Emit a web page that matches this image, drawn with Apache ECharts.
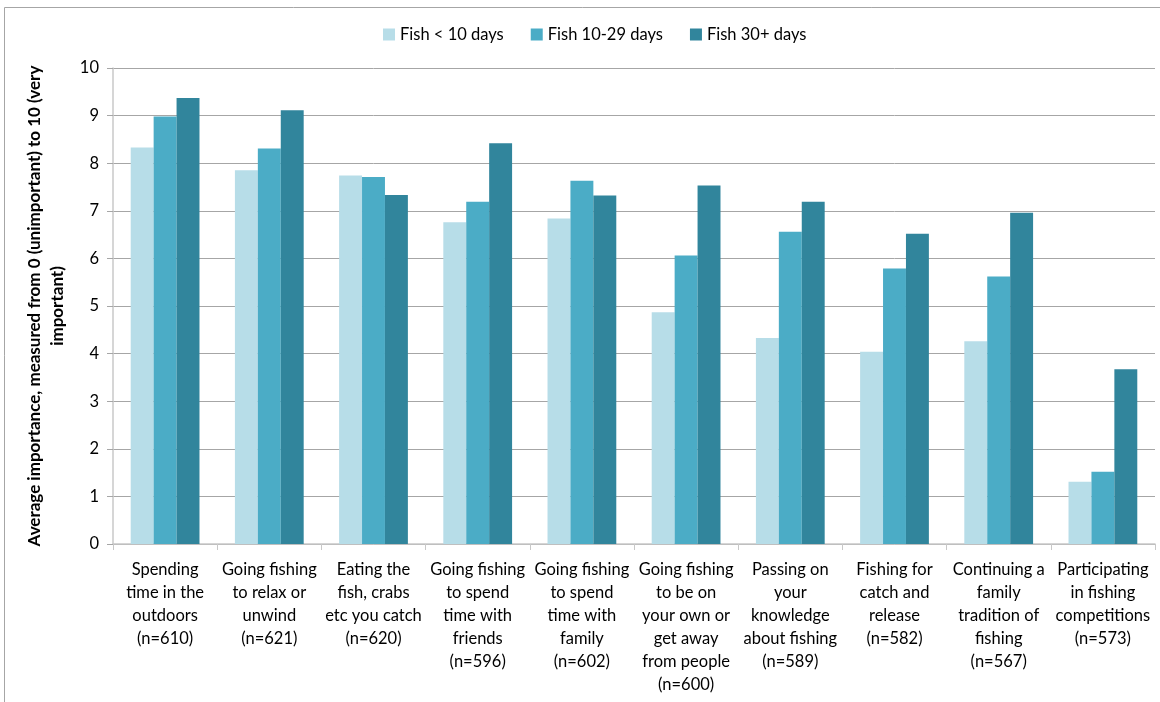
<!DOCTYPE html>
<html>
<head>
<meta charset="utf-8">
<script src="https://cdn.jsdelivr.net/npm/echarts@6/dist/echarts.min.js"></script>
<style>html,body{margin:0;padding:0;background:#fff;}#c{width:1160px;height:702px;}</style>
</head>
<body>
<div id="c"></div>
<script>
const categories = [
  "Spending\ntime in the\noutdoors\n(n=610)",
  "Going fishing\nto relax or\nunwind\n(n=621)",
  "Eating the\nfish, crabs\netc you catch\n(n=620)",
  "Going fishing\nto spend\ntime with\nfriends\n(n=596)",
  "Going fishing\nto spend\ntime with\nfamily\n(n=602)",
  "Going fishing\nto be on\nyour own or\nget away\nfrom people\n(n=600)",
  "Passing on\nyour\nknowledge\nabout fishing\n(n=589)",
  "Fishing for\ncatch and\nrelease\n(n=582)",
  "Continuing a\nfamily\ntradition of\nfishing\n(n=567)",
  "Participating\nin fishing\ncompetitions\n(n=573)"
];
const seriesNames = ["Fish < 10 days", "Fish 10-29 days", "Fish 30+ days"];
const fishUnder10 = [8.33, 7.85, 7.74, 6.76, 6.84, 4.87, 4.33, 4.04, 4.26, 1.31];
const fish10to29  = [8.98, 8.31, 7.71, 7.19, 7.63, 6.06, 6.56, 5.79, 5.62, 1.52];
const fish30plus  = [9.37, 9.11, 7.33, 8.42, 7.32, 7.53, 7.19, 6.52, 6.96, 3.67];
const yTicks = [0, 1, 2, 3, 4, 5, 6, 7, 8, 9, 10];
const colors = ["#b7dde8", "#4bacc6", "#31859c"];
const FONT = "Lato";

const chart = echarts.init(document.getElementById('c'), null, {renderer: 'canvas'});
const dataSets = [fishUnder10, fish10to29, fish30plus];
chart.setOption({
  animation: false,
  textStyle: {fontFamily: FONT},
  graphic: [{
    type: 'rect', silent: true,
    shape: {x: 4.5, y: 7.5, width: 1200, height: 720},
    style: {fill: 'none', stroke: '#a6a6a6', lineWidth: 1}
  }],
  legend: {
    top: 21, left: 378,
    itemWidth: 12, itemHeight: 12, itemGap: 27,
    icon: 'rect',
    textStyle: {fontFamily: FONT, fontSize: 16.5, color: '#000'},
    data: seriesNames
  },
  grid: {left: 113, right: 5, top: 68, bottom: 158, containLabel: false},
  xAxis: {
    type: 'category',
    data: categories,
    axisLine: {lineStyle: {color: '#c8c8c8', width: 1.5}},
    axisTick: {show: true, length: 6, lineStyle: {color: '#c8c8c8'}},
    axisLabel: {interval: 0, fontFamily: FONT, fontSize: 16.5, color: '#000', lineHeight: 23, margin: 14, align: 'center'}
  },
  yAxis: {
    type: 'value', min: yTicks[0], max: yTicks[yTicks.length - 1], interval: 1,
    name: "Average importance, measured from 0 (unimportant) to 10 (very\nimportant)",
    nameLocation: 'middle', nameRotate: 90, nameGap: 44,
    nameTextStyle: {fontFamily: FONT, fontSize: 17, fontWeight: 'bold', color: '#000', lineHeight: 23, align: 'center'},
    axisLine: {show: true, lineStyle: {color: '#c8c8c8', width: 1.5}},
    axisTick: {show: true, length: 6, lineStyle: {color: '#a6a6a6'}},
    axisLabel: {fontFamily: FONT, fontSize: 16.5, color: '#000', margin: 14},
    splitLine: {lineStyle: {color: '#a6a6a6', width: 1}}
  },
  series: dataSets.map((d, i) => ({
    name: seriesNames[i], type: 'bar', data: d,
    barGap: '0%', barCategoryGap: '34%',
    itemStyle: {color: colors[i]}
  }))
});
</script>
</body>
</html>
